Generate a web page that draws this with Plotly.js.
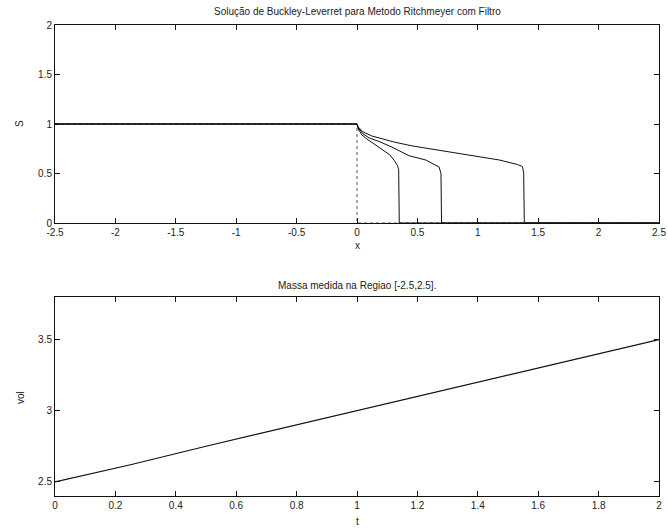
<!DOCTYPE html>
<html>
<head>
<meta charset="utf-8">
<script src="https://cdn.plot.ly/plotly-3.0.1.min.js"></script>
<style>html,body{margin:0;padding:0;background:#fff;}</style>
</head>
<body>
<div id="chart" style="width:668px;height:532px;"></div>
<script>
// Top panel: Buckley-Leverett saturation profiles
var x_t0 = [-2.5, 0, 0, 2.5];
var s_t0 = [1, 1, 0, 0];

var x_t05 = [-2.5, 0, 0.01, 0.04, 0.08, 0.13, 0.2, 0.27, 0.31, 0.335, 0.345, 0.35, 2.5];
var s_t05 = [1, 1, 0.95, 0.89, 0.85, 0.81, 0.75, 0.69, 0.63, 0.58, 0.54, 0, 0];

var x_t1 = [-2.5, 0, 0.01, 0.05, 0.1, 0.19, 0.3, 0.43, 0.57, 0.65, 0.68, 0.695, 0.70, 2.5];
var s_t1 = [1, 1, 0.96, 0.90, 0.86, 0.82, 0.76, 0.68, 0.636, 0.59, 0.565, 0.5, 0, 0];

var x_t2 = [-2.5, 0, 0.01, 0.05, 0.12, 0.2, 0.3, 0.45, 0.63, 0.9, 1.18, 1.33, 1.37, 1.38, 1.385, 2.5];
var s_t2 = [1, 1, 0.97, 0.92, 0.88, 0.85, 0.82, 0.78, 0.745, 0.687, 0.636, 0.59, 0.57, 0.50, 0, 0];

// Bottom panel: mass in region [-2.5, 2.5]
var t_vals = [0, 0.25, 0.5, 0.75, 1, 1.25, 1.5, 1.75, 2];
var vol_vals = [2.5, 2.62, 2.75, 2.875, 3.0, 3.125, 3.25, 3.375, 3.5];

// Tick values and labels
var topXTicks = [-2.5, -2, -1.5, -1, -0.5, 0, 0.5, 1, 1.5, 2, 2.5];
var topXLabels = ['-2.5', '-2', '-1.5', '-1', '-0.5', '0', '0.5', '1', '1.5', '2', '2.5'];
var topYTicks = [0, 0.5, 1, 1.5, 2];
var topYLabels = ['0', '0.5', '1', '1.5', '2'];
var botXTicks = [0, 0.2, 0.4, 0.6, 0.8, 1, 1.2, 1.4, 1.6, 1.8, 2];
var botXLabels = ['0', '0.2', '0.4', '0.6', '0.8', '1', '1.2', '1.4', '1.6', '1.8', '2'];
var botYTicks = [2.5, 3, 3.5];
var botYLabels = ['2.5', '3', '3.5'];

var lineStyle = {color: '#111', width: 1};
var traces = [
  {x: x_t0, y: s_t0, xaxis: 'x', yaxis: 'y', mode: 'lines', line: {color: '#555', width: 1, dash: 'dot'}},
  {x: x_t05, y: s_t05, xaxis: 'x', yaxis: 'y', mode: 'lines', line: lineStyle},
  {x: x_t1, y: s_t1, xaxis: 'x', yaxis: 'y', mode: 'lines', line: lineStyle},
  {x: x_t2, y: s_t2, xaxis: 'x', yaxis: 'y', mode: 'lines', line: lineStyle},
  {x: t_vals, y: vol_vals, xaxis: 'x2', yaxis: 'y2', mode: 'lines', line: {color: '#111', width: 1.2}}
];

var font = {family: 'Liberation Sans, Arial, sans-serif', size: 10, color: '#222'};
function ax(extra) {
  var base = {
    showline: true, linecolor: '#111', linewidth: 1, mirror: 'ticks',
    ticks: 'inside', ticklen: 5, tickcolor: '#111', tickwidth: 1,
    showgrid: false, zeroline: false, tickfont: font, fixedrange: true,
    tickmode: 'array'
  };
  for (var k in extra) base[k] = extra[k];
  return base;
}
var xd = [55/668, 659/668];
var layout = {
  width: 668, height: 532,
  margin: {l: 0, r: 0, t: 0, b: 0},
  paper_bgcolor: '#fff', plot_bgcolor: '#fff',
  showlegend: false,
  font: font,
  xaxis: ax({domain: xd, range: [-2.5, 2.5], tickvals: topXTicks, ticktext: topXLabels, anchor: 'y'}),
  yaxis: ax({domain: [309/532, 507/532], range: [0, 2], tickvals: topYTicks, ticktext: topYLabels, anchor: 'x'}),
  xaxis2: ax({domain: xd, range: [0, 2], tickvals: botXTicks, ticktext: botXLabels, anchor: 'y2'}),
  yaxis2: ax({domain: [36/532, 235/532], range: [2.4, 3.8], tickvals: botYTicks, ticktext: botYLabels, anchor: 'x2'}),
  annotations: [
    {text: 'Solução de Buckley-Leverret para Metodo Ritchmeyer com Filtro', xref: 'paper', yref: 'paper',
     x: 357/668, y: 1 - 12/532, xanchor: 'center', yanchor: 'middle', showarrow: false, font: font},
    {text: 'x', xref: 'paper', yref: 'paper', x: 357/668, y: 1 - 246/532, xanchor: 'center', yanchor: 'middle', showarrow: false, font: font},
    {text: 'S', xref: 'paper', yref: 'paper', x: 20/668, y: 1 - 124/532, xanchor: 'center', yanchor: 'middle', showarrow: false, textangle: -90, font: font},
    {text: 'Massa medida na Regiao [-2.5,2.5].', xref: 'paper', yref: 'paper',
     x: 357/668, y: 1 - 285/532, xanchor: 'center', yanchor: 'middle', showarrow: false, font: font},
    {text: 't', xref: 'paper', yref: 'paper', x: 357/668, y: 1 - 521/532, xanchor: 'center', yanchor: 'middle', showarrow: false, font: font},
    {text: 'vol', xref: 'paper', yref: 'paper', x: 20/668, y: 1 - 398/532, xanchor: 'center', yanchor: 'middle', showarrow: false, textangle: -90, font: font}
  ]
};
Plotly.newPlot('chart', traces, layout, {staticPlot: true, displayModeBar: false});
</script>
</body>
</html>
